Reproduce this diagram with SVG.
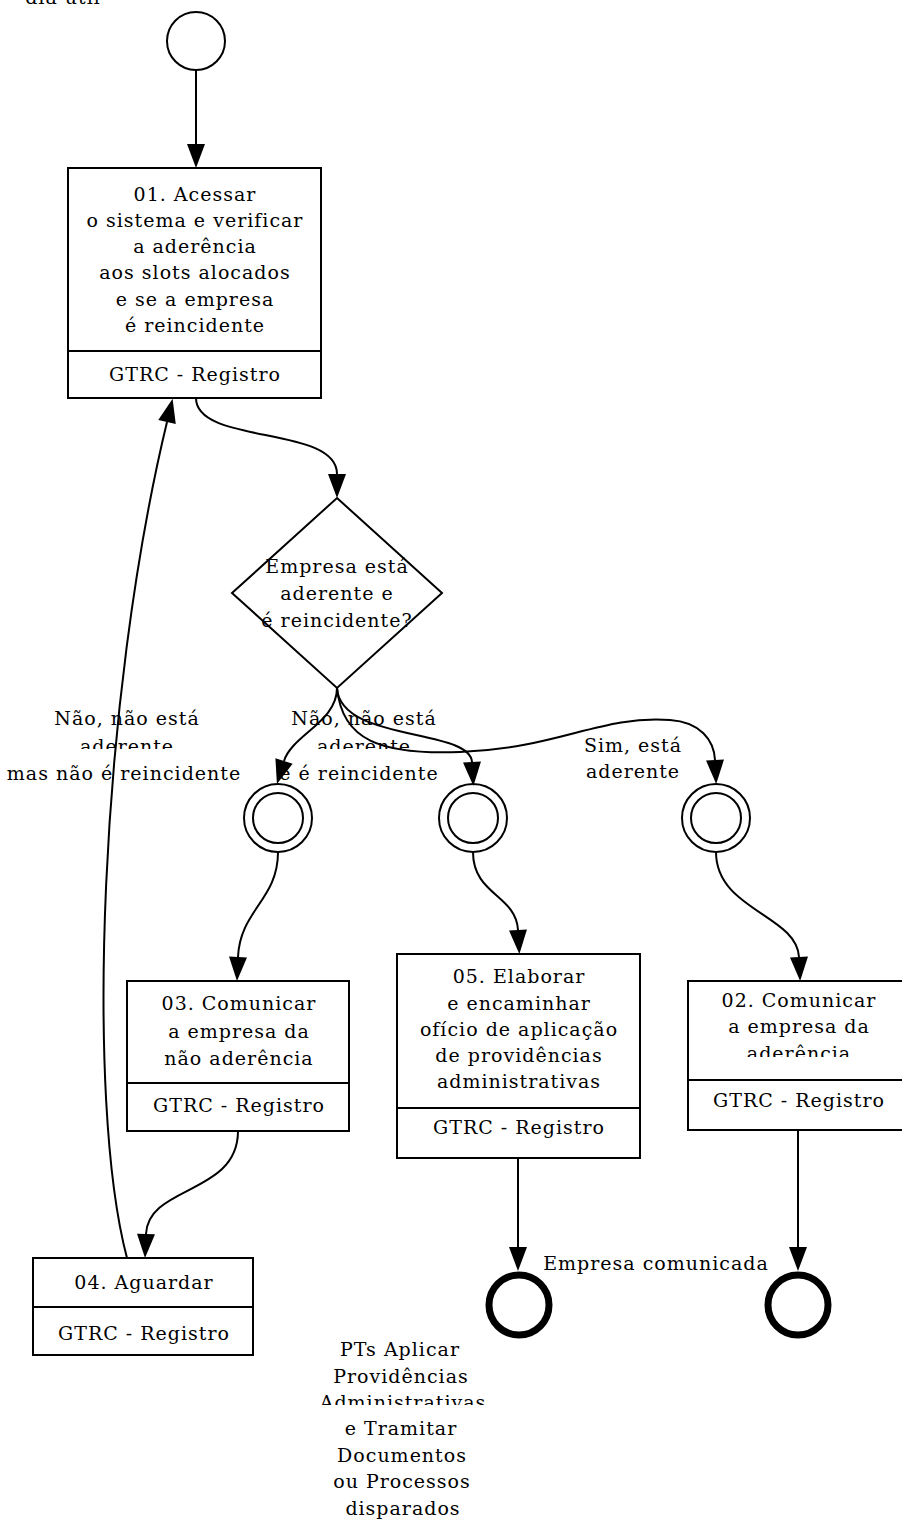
<svg xmlns="http://www.w3.org/2000/svg" width="902" height="1522" viewBox="0 0 902 1522">
<style>
text{font-family:"DejaVu Serif","Liberation Serif",serif;font-size:19px;letter-spacing:1px;fill:#000;text-anchor:middle}
.box{fill:#fff;stroke:#000;stroke-width:2}
.sep{stroke:#000;stroke-width:2}
.ev{fill:#fff;stroke:#000;stroke-width:2}
.end{fill:#fff;stroke:#000;stroke-width:7}
.edge{fill:none;stroke:#000;stroke-width:2;marker-end:url(#arr)}
</style>
<defs>
<marker id="arr" markerUnits="userSpaceOnUse" markerWidth="26" markerHeight="20" refX="0" refY="9" orient="auto" viewBox="0 0 26 18" overflow="visible">
<path d="M0,0 L24,9 L0,18 z" fill="#000"/>
</marker>
<clipPath id="c1"><rect x="0" y="600" width="460" height="149"/></clipPath>
<clipPath id="c2"><rect x="600" y="1000" width="302" height="57"/></clipPath>
<clipPath id="c3"><rect x="300" y="1380" width="220" height="25"/></clipPath>
</defs>

<text x="63" y="4">dia útil</text>

<g id="start"><circle class="ev" cx="196" cy="41" r="29"/></g>

<g id="n01">
<rect class="box" x="68" y="168" width="253" height="230"/>
<line class="sep" x1="68" y1="351" x2="321" y2="351"/>
<text x="195" y="201">01. Acessar</text>
<text x="195" y="227">o sistema e verificar</text>
<text x="195" y="253">a aderência</text>
<text x="195" y="279">aos slots alocados</text>
<text x="195" y="306">e se a empresa</text>
<text x="195" y="332">é reincidente</text>
<text x="195" y="381">GTRC - Registro</text>
</g>

<g id="gw">
<polygon class="box" points="337,498 442,593 337,688 232,593"/>
<text x="337" y="573">Empresa está</text>
<text x="337" y="600">aderente e</text>
<text x="337" y="627">é reincidente?</text>
</g>

<g id="ev1"><circle class="ev" cx="278" cy="818" r="34"/><circle class="ev" cx="278" cy="818" r="25"/></g>
<g id="ev2"><circle class="ev" cx="473" cy="818" r="34"/><circle class="ev" cx="473" cy="818" r="25"/></g>
<g id="ev3"><circle class="ev" cx="716" cy="818" r="34"/><circle class="ev" cx="716" cy="818" r="25"/></g>

<g id="n03">
<rect class="box" x="127" y="981" width="222" height="150"/>
<line class="sep" x1="127" y1="1083" x2="349" y2="1083"/>
<text x="239" y="1010">03. Comunicar</text>
<text x="239" y="1038">a empresa da</text>
<text x="239" y="1065">não aderência</text>
<text x="239" y="1112">GTRC - Registro</text>
</g>

<g id="n05">
<rect class="box" x="397" y="954" width="243" height="204"/>
<line class="sep" x1="397" y1="1108" x2="640" y2="1108"/>
<text x="519" y="983">05. Elaborar</text>
<text x="519" y="1010">e encaminhar</text>
<text x="519" y="1036">ofício de aplicação</text>
<text x="519" y="1062">de providências</text>
<text x="519" y="1088">administrativas</text>
<text x="519" y="1134">GTRC - Registro</text>
</g>

<g id="n02">
<rect class="box" x="688" y="981" width="224" height="149"/>
<line class="sep" x1="688" y1="1080" x2="912" y2="1080"/>
<text x="799" y="1007">02. Comunicar</text>
<text x="799" y="1033">a empresa da</text>
<text x="799" y="1060" clip-path="url(#c2)">aderência</text>
<text x="799" y="1107">GTRC - Registro</text>
</g>

<g id="n04">
<rect class="box" x="33" y="1258" width="220" height="97"/>
<line class="sep" x1="33" y1="1307" x2="253" y2="1307"/>
<text x="144" y="1289">04. Aguardar</text>
<text x="144" y="1340">GTRC - Registro</text>
</g>

<g id="end1"><circle class="end" cx="519" cy="1305" r="30"/></g>
<g id="end2"><circle class="end" cx="798" cy="1305" r="30"/></g>

<g id="labels">
<text x="127" y="725">Não, não está</text>
<text x="127" y="753" clip-path="url(#c1)">aderente</text>
<text x="124" y="780">mas não é reincidente</text>
<text x="364" y="725">Não, não está</text>
<text x="364" y="753" clip-path="url(#c1)">aderente</text>
<text x="359" y="780">e é reincidente</text>
<text x="633" y="752">Sim, está</text>
<text x="633" y="778">aderente</text>
<text x="656" y="1270">Empresa comunicada</text>
<text x="400" y="1356">PTs Aplicar</text>
<text x="401" y="1383">Providências</text>
<text x="403" y="1409" clip-path="url(#c3)">Administrativas</text>
<text x="401" y="1435">e Tramitar</text>
<text x="402" y="1462">Documentos</text>
<text x="402" y="1488">ou Processos</text>
<text x="403" y="1515">disparados</text>
</g>

<g id="connectors">
<path class="edge" d="M196,70 L196,144"/>
<path class="edge" d="M196,398 C196,445 337,425 337,474"/>
<path class="edge" d="M337,688 C337,722 292,735 284,761"/>
<path class="edge" d="M337,688 C340,742 470,728 472,762"/>
<path class="edge" d="M337,688 C342,740 380,755 460,752 C560,748 600,715 670,720 C700,722 714,740 715,760"/>
<path class="edge" d="M278,852 C278,900 240,910 238,957"/>
<path class="edge" d="M473,852 C473,895 516,895 518,930"/>
<path class="edge" d="M716,852 C716,910 797,915 799,957"/>
<path class="edge" d="M518,1158 L518,1247"/>
<path class="edge" d="M798,1130 L798,1247"/>
<path class="edge" d="M238,1131 C238,1195 148,1185 146,1234"/>
<path class="edge" d="M127,1258 C85,1100 100,700 167,422"/>
</g>
</svg>
